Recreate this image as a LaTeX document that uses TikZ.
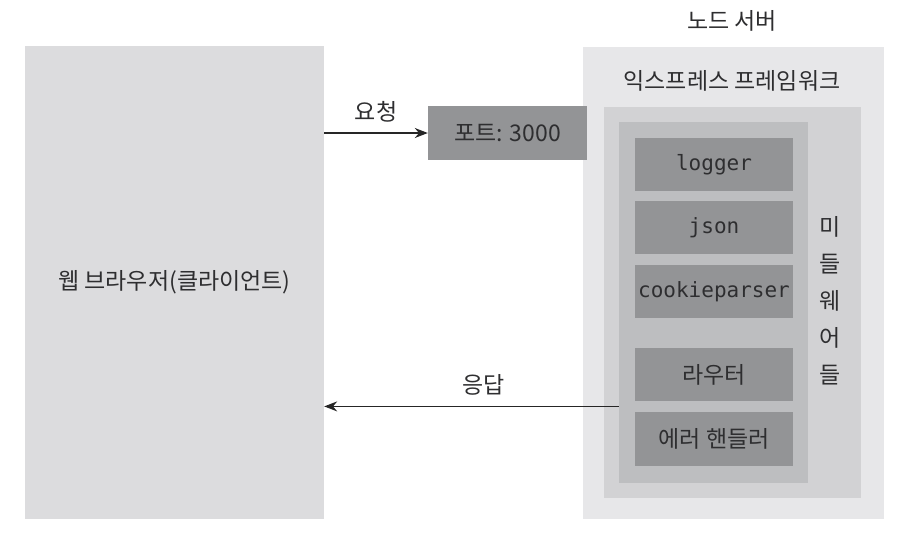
\documentclass[tikz,border=0pt]{standalone}
\usepackage{fontspec}
\setmainfont{Noto Sans CJK KR}
\setmonofont{DejaVu Sans Mono}
\usetikzlibrary{positioning, calc, arrows.meta}
\definecolor{clientgray}{HTML}{DCDCDE}
\definecolor{servergray}{HTML}{E7E7E9}
\definecolor{framegray}{HTML}{D2D2D4}
\definecolor{mwaregray}{HTML}{BDBEC0}
\definecolor{modulegray}{HTML}{939496}
\definecolor{textgray}{HTML}{2E2E30}
\newcommand{\hangulsize}{\fontsize{23}{27}\selectfont}
\newcommand{\codesize}{\ttfamily\fontsize{21}{24}\selectfont}
\tikzstyle{client} = [rectangle, minimum width=299pt, minimum height=473pt, fill=clientgray, text=textgray, font=\hangulsize]
\tikzstyle{server} = [rectangle, minimum width=301pt, minimum height=472pt, fill=servergray]
\tikzstyle{frame} = [rectangle, minimum width=257pt, minimum height=391pt, fill=framegray]
\tikzstyle{mware} = [rectangle, minimum width=189pt, minimum height=361pt, fill=mwaregray]
\tikzstyle{module} = [rectangle, minimum width=158pt, minimum height=53pt, inner sep=0pt, fill=modulegray, text=textgray, font=\hangulsize]
\tikzstyle{codemodule} = [module, font=\codesize]
\tikzstyle{port} = [module, minimum width=159pt, minimum height=54pt]
\tikzstyle{note} = [text=textgray, font=\hangulsize, inner sep=2pt]
\tikzstyle{arrow} = [line width=1.4pt, draw=black!85, -{Stealth[length=13pt,width=10pt]}]

\begin{document}
\begin{tikzpicture}[x=1pt, y=-1pt]
\useasboundingbox (0,0) rectangle (909,539);

\node (browser) [client] at (174.5,282.5) {웹 브라우저(클라이언트)};
\node (nodeserver) [server] at (733.5,283) {};
\node (express) [frame] at (732.5,302.5) {};
\node (middleware) [mware] at (713.5,302.5) {};
\node (port) [port] at (507.5,133) {포트: 3000};

\node (servertitle) [note] at (732,21) {노드 서버};
\node (expresstitle) [note] at (732,81) {익스프레스 프레임워크};
\node (mwtitle) [note, align=center, font=\fontsize{23}{37}\selectfont] at (830,301) {미\\들\\웨\\어\\들};

\node (logger) [codemodule] at (714,164.5) {logger};
\node (json) [codemodule, below=10pt of logger] {json};
\node (cookie) [codemodule, below=10pt of json] {cookieparser};
\node (router) [module, below=30pt of cookie] {라우터};
\node (errhandler) [module, below=10pt of router, minimum height=54pt] {에러 핸들러};

\coordinate (resp) at ($(router.south)!0.5!(errhandler.north)$);

\draw [arrow] (browser.east |- port.west) -- node [note, above=8pt] {요청} (port.west);
\draw [arrow] (middleware.west |- resp) -- node [note, above=8pt, pos=0.46] {응답} (browser.east |- resp);

\end{tikzpicture}
\end{document}
